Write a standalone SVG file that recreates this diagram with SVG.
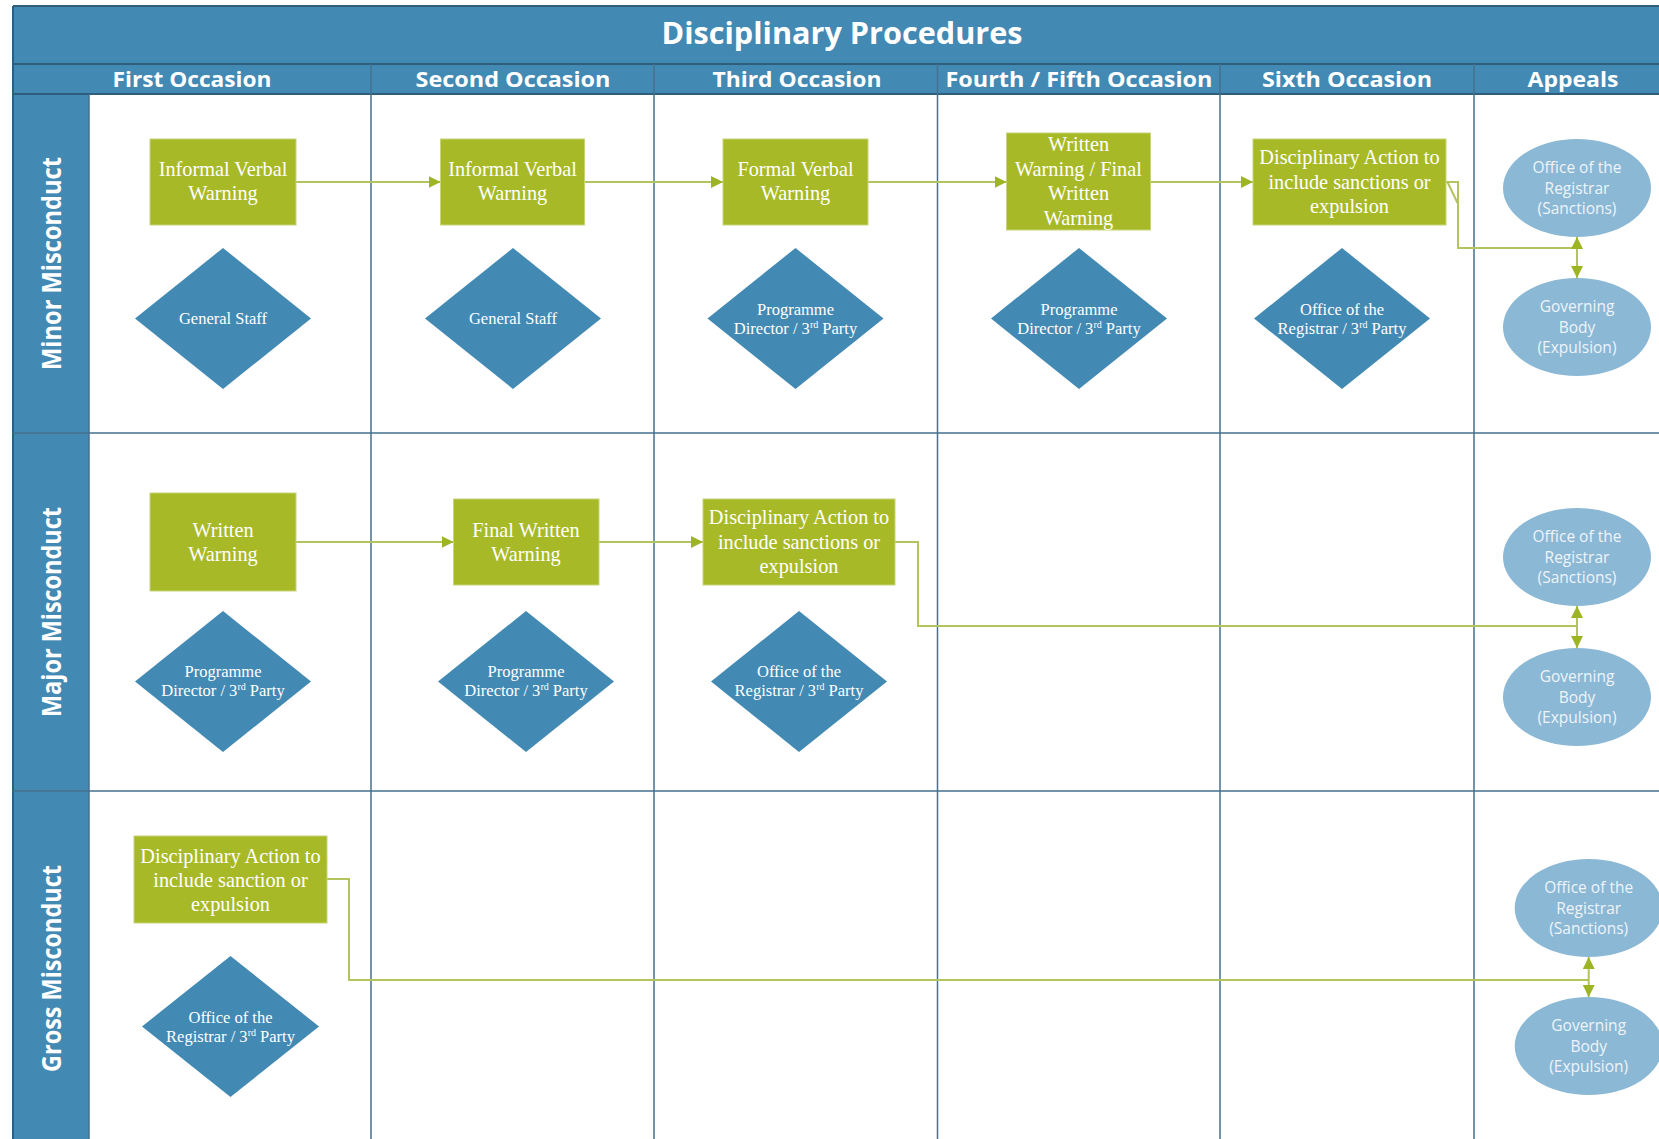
<svg xmlns="http://www.w3.org/2000/svg" width="1659" height="1139" viewBox="0 0 1659 1139">
<style>
.band{fill:#4289b4}
.bline{stroke:#2f5d7c;stroke-width:2;fill:none}
.grid{stroke:#46708e;stroke-width:1.5;fill:none}
.hdr{font-family:"Open Sans","Liberation Sans",sans-serif;font-weight:bold;fill:#ffffff;text-anchor:middle}
.lane{font-family:"Open Sans","Liberation Sans",sans-serif;font-weight:bold;font-size:27px;fill:#ffffff;text-anchor:middle}
.box{fill:#a8b928;stroke:#c8d477;stroke-width:1}
.bt{font-family:"Liberation Serif","Times New Roman",serif;font-size:20.3px;fill:#ffffff;text-anchor:middle}
.dia{fill:#4289b4}
.dt{font-family:"Liberation Serif","Times New Roman",serif;font-size:16.5px;fill:#ffffff;text-anchor:middle}
.ell{fill:#8bb8d5}
.et{font-family:"Open Sans","Liberation Sans",sans-serif;font-size:15.5px;fill:#eef4f9;text-anchor:middle}
.con{stroke:#b3c35e;stroke-width:2;fill:none}
.arr{marker-end:url(#ah)}
.dbl{marker-start:url(#ah);marker-end:url(#ah)}
</style>
<defs>
<marker id="ah" viewBox="0 0 12 12" refX="12" refY="6" markerWidth="12" markerHeight="12" markerUnits="userSpaceOnUse" orient="auto-start-reverse">
<path d="M0,0 L12,6 L0,12 z" fill="#9db424"/>
</marker>
</defs>
<rect width="1659" height="1139" fill="#ffffff"/>

<g id="frame">
<rect class="band" x="13" y="6" width="1680" height="88"/>
<rect class="band" x="13" y="94" width="76" height="1060"/>
<path class="bline" d="M13,6 H1680 M13,6 V1139 M13,64 H1680 M13,94 H1680"/>
<path class="grid" d="M89,94 V1139 M371,64 V1139 M654,64 V1139 M937.5,64 V1139 M1220,64 V1139 M1474,64 V1139 M13,433 H1680 M13,791 H1680"/>
<text class="hdr" x="842" y="44" font-size="30" textLength="361" lengthAdjust="spacingAndGlyphs">Disciplinary Procedures</text>
<text class="hdr" x="192" y="87" font-size="22" textLength="159" lengthAdjust="spacingAndGlyphs">First Occasion</text>
<text class="hdr" x="513" y="87" font-size="22" textLength="195" lengthAdjust="spacingAndGlyphs">Second Occasion</text>
<text class="hdr" x="797" y="87" font-size="22" textLength="169" lengthAdjust="spacingAndGlyphs">Third Occasion</text>
<text class="hdr" x="1079" y="87" font-size="22" textLength="267" lengthAdjust="spacingAndGlyphs">Fourth / Fifth Occasion</text>
<text class="hdr" x="1347" y="87" font-size="22" textLength="170" lengthAdjust="spacingAndGlyphs">Sixth Occasion</text>
<text class="hdr" x="1573" y="87" font-size="22" textLength="91" lengthAdjust="spacingAndGlyphs">Appeals</text>
<text class="lane" transform="translate(60.5,263.5) rotate(-90)" textLength="213" lengthAdjust="spacingAndGlyphs">Minor Misconduct</text>
<text class="lane" transform="translate(60.5,612) rotate(-90)" textLength="210" lengthAdjust="spacingAndGlyphs">Major Misconduct</text>
<text class="lane" transform="translate(60.5,968.5) rotate(-90)" textLength="207" lengthAdjust="spacingAndGlyphs">Gross Misconduct</text>
</g>

<g id="connectors">
<path class="con arr" d="M296,182 H440.5"/>
<path class="con arr" d="M584.5,182 H723"/>
<path class="con arr" d="M868,182 H1006.5"/>
<path class="con arr" d="M1150.5,182 H1253"/>
<path class="con" d="M1446,182 H1458 V248 H1577"/>
<path class="con" stroke-width="1" d="M1447.5,182 L1457.5,203"/>
<path class="con dbl" d="M1577,237 V278"/>
<path class="con arr" d="M296,542 H453.5"/>
<path class="con arr" d="M599,542 H703"/>
<path class="con" d="M895,542 H918 V626 H1577"/>
<path class="con dbl" d="M1577,606 V648"/>
<path class="con" d="M327,879 H349 V980 H1588.7"/>
<path class="con dbl" d="M1588.7,957 V997"/>
</g>

<g id="minor-1-box"><rect class="box" x="150" y="139" width="146" height="86"/>
<text class="bt" x="223" y="176">Informal Verbal</text><text class="bt" x="223" y="200">Warning</text></g>
<g id="minor-2-box"><rect class="box" x="440.5" y="139" width="144" height="86"/>
<text class="bt" x="512.5" y="176">Informal Verbal</text><text class="bt" x="512.5" y="200">Warning</text></g>
<g id="minor-3-box"><rect class="box" x="723" y="139" width="145" height="86"/>
<text class="bt" x="795.5" y="176">Formal Verbal</text><text class="bt" x="795.5" y="200">Warning</text></g>
<g id="minor-4-box"><rect class="box" x="1006.5" y="133" width="144" height="97"/>
<text class="bt" x="1078.5" y="151">Written</text><text class="bt" x="1078.5" y="175.5">Warning / Final</text><text class="bt" x="1078.5" y="200">Written</text><text class="bt" x="1078.5" y="224.5">Warning</text></g>
<g id="minor-6-box"><rect class="box" x="1253" y="139" width="193" height="86"/>
<text class="bt" x="1349.5" y="164">Disciplinary Action to</text><text class="bt" x="1349.5" y="188.5">include sanctions or</text><text class="bt" x="1349.5" y="213">expulsion</text></g>

<g id="minor-1-dia"><path class="dia" d="M223,248 L311,318.5 L223,389 L135,318.5 z"/>
<text class="dt" x="223" y="324">General Staff</text></g>
<g id="minor-2-dia"><path class="dia" d="M513,248 L601,318.5 L513,389 L425,318.5 z"/>
<text class="dt" x="513" y="324">General Staff</text></g>
<g id="minor-3-dia"><path class="dia" d="M795.5,248 L883.5,318.5 L795.5,389 L707.5,318.5 z"/>
<text class="dt" x="795.5" y="315">Programme</text><text class="dt" x="795.5" y="334">Director / 3<tspan dy="-6" font-size="10">rd</tspan><tspan dy="6"> Party</tspan></text></g>
<g id="minor-4-dia"><path class="dia" d="M1079,248 L1167,318.5 L1079,389 L991,318.5 z"/>
<text class="dt" x="1079" y="315">Programme</text><text class="dt" x="1079" y="334">Director / 3<tspan dy="-6" font-size="10">rd</tspan><tspan dy="6"> Party</tspan></text></g>
<g id="minor-6-dia"><path class="dia" d="M1342,248 L1430,318.5 L1342,389 L1254,318.5 z"/>
<text class="dt" x="1342" y="315">Office of the</text><text class="dt" x="1342" y="334">Registrar / 3<tspan dy="-6" font-size="10">rd</tspan><tspan dy="6"> Party</tspan></text></g>

<g id="minor-appeal-registrar"><ellipse class="ell" cx="1577" cy="188" rx="74" ry="49"/>
<text class="et" x="1577" y="173">Office of the</text><text class="et" x="1577" y="193.5">Registrar</text><text class="et" x="1577" y="213.5">(Sanctions)</text></g>
<g id="minor-appeal-governing"><ellipse class="ell" cx="1577" cy="327" rx="74" ry="49"/>
<text class="et" x="1577" y="312">Governing</text><text class="et" x="1577" y="332.5">Body</text><text class="et" x="1577" y="352.5">(Expulsion)</text></g>

<g id="major-1-box"><rect class="box" x="150" y="493" width="146" height="98"/>
<text class="bt" x="223" y="537">Written</text><text class="bt" x="223" y="561">Warning</text></g>
<g id="major-2-box"><rect class="box" x="453.5" y="499" width="145.5" height="86"/>
<text class="bt" x="526" y="537">Final Written</text><text class="bt" x="526" y="561">Warning</text></g>
<g id="major-3-box"><rect class="box" x="703" y="499" width="192" height="86"/>
<text class="bt" x="799" y="524">Disciplinary Action to</text><text class="bt" x="799" y="548.5">include sanctions or</text><text class="bt" x="799" y="573">expulsion</text></g>

<g id="major-1-dia"><path class="dia" d="M223,611 L311,681.5 L223,752 L135,681.5 z"/>
<text class="dt" x="223" y="677">Programme</text><text class="dt" x="223" y="696">Director / 3<tspan dy="-6" font-size="10">rd</tspan><tspan dy="6"> Party</tspan></text></g>
<g id="major-2-dia"><path class="dia" d="M526,611 L614,681.5 L526,752 L438,681.5 z"/>
<text class="dt" x="526" y="677">Programme</text><text class="dt" x="526" y="696">Director / 3<tspan dy="-6" font-size="10">rd</tspan><tspan dy="6"> Party</tspan></text></g>
<g id="major-3-dia"><path class="dia" d="M799,611 L887,681.5 L799,752 L711,681.5 z"/>
<text class="dt" x="799" y="677">Office of the</text><text class="dt" x="799" y="696">Registrar / 3<tspan dy="-6" font-size="10">rd</tspan><tspan dy="6"> Party</tspan></text></g>

<g id="major-appeal-registrar"><ellipse class="ell" cx="1577" cy="557" rx="74" ry="49"/>
<text class="et" x="1577" y="542">Office of the</text><text class="et" x="1577" y="562.5">Registrar</text><text class="et" x="1577" y="582.5">(Sanctions)</text></g>
<g id="major-appeal-governing"><ellipse class="ell" cx="1577" cy="697" rx="74" ry="49"/>
<text class="et" x="1577" y="682">Governing</text><text class="et" x="1577" y="702.5">Body</text><text class="et" x="1577" y="722.5">(Expulsion)</text></g>

<g id="gross-1-box"><rect class="box" x="134" y="836" width="193" height="87"/>
<text class="bt" x="230.5" y="863">Disciplinary Action to</text><text class="bt" x="230.5" y="887">include sanction or</text><text class="bt" x="230.5" y="911">expulsion</text></g>
<g id="gross-1-dia"><path class="dia" d="M230.5,956 L319,1026.5 L230.5,1097 L142,1026.5 z"/>
<text class="dt" x="230.5" y="1023">Office of the</text><text class="dt" x="230.5" y="1042">Registrar / 3<tspan dy="-6" font-size="10">rd</tspan><tspan dy="6"> Party</tspan></text></g>

<g id="gross-appeal-registrar"><ellipse class="ell" cx="1588.7" cy="908" rx="74" ry="49"/>
<text class="et" x="1588.7" y="893">Office of the</text><text class="et" x="1588.7" y="913.5">Registrar</text><text class="et" x="1588.7" y="933.5">(Sanctions)</text></g>
<g id="gross-appeal-governing"><ellipse class="ell" cx="1588.7" cy="1046" rx="74" ry="49"/>
<text class="et" x="1588.7" y="1031">Governing</text><text class="et" x="1588.7" y="1051.5">Body</text><text class="et" x="1588.7" y="1071.5">(Expulsion)</text></g>
</svg>
